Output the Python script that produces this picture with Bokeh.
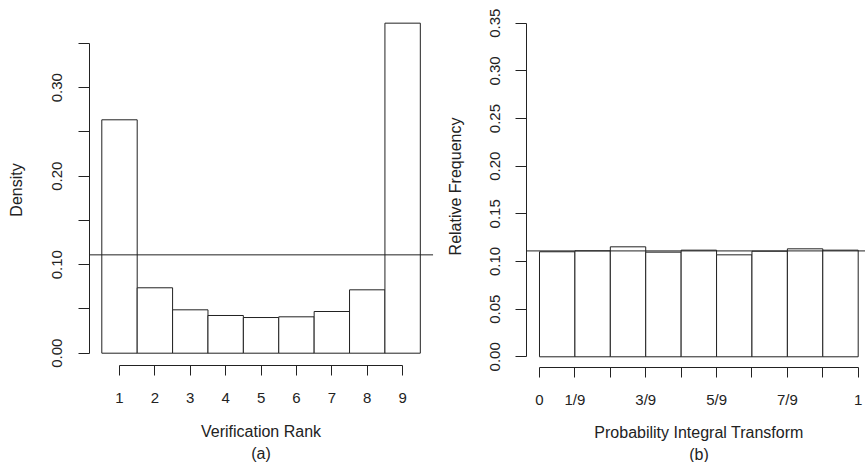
import math
from bokeh.plotting import figure
from bokeh.models import FixedTicker, PrintfTickFormatter, Range1d
from bokeh.core.properties import value
from bokeh.layouts import row
from bokeh.embed import file_html
from bokeh.resources import INLINE

# ---- data ----
ranks = [1, 2, 3, 4, 5, 6, 7, 8, 9]
rank_density = [0.2637, 0.0739, 0.0490, 0.0426, 0.0403, 0.0411, 0.0471, 0.0716, 0.3729]

pit_edges = [0, 1/9, 2/9, 3/9, 4/9, 5/9, 6/9, 7/9, 8/9, 1]
pit_freq = [0.1102, 0.1112, 0.1154, 0.1098, 0.1119, 0.1070, 0.1108, 0.1133, 0.1119]

uniform_level = 1/9

left_yticks = [0.0, 0.05, 0.10, 0.15, 0.20, 0.25, 0.30, 0.35]
left_yticklabels = ["0.00", "", "0.10", "", "0.20", "", "0.30", ""]
right_yticks = [0.0, 0.05, 0.10, 0.15, 0.20, 0.25, 0.30, 0.35]
right_yticklabels = ["0.00", "0.05", "0.10", "0.15", "0.20", "0.25", "0.30", "0.35"]
pit_xticklabels = ["0", "1/9", "", "3/9", "", "5/9", "", "7/9", "", "1"]

FONT = "Liberation Sans"
TICK_FS = "15px"
LAB_FS = "16px"
INK = "#222222"


def style(p, xaxis_bounds, yaxis_bounds, x_at, y_at, tick_standoff, x_lab_standoff):
    p.grid.grid_line_color = None
    p.outline_line_color = None
    p.background_fill_color = "white"
    p.border_fill_color = "white"
    for ax in (p.xaxis[0], p.yaxis[0]):
        ax.axis_line_color = INK
        ax.major_tick_line_color = INK
        ax.minor_tick_line_color = None
        ax.major_tick_in = 0
        ax.major_label_text_font = FONT
        ax.major_label_text_font_size = TICK_FS
        ax.major_label_text_color = INK
        ax.axis_label_text_font = FONT
        ax.axis_label_text_font_size = LAB_FS
        ax.axis_label_text_font_style = "normal"
        ax.axis_label_text_color = INK
    # R-style axes drawn at the edges of the plot region
    p.xaxis[0].bounds = xaxis_bounds
    p.xaxis[0].fixed_location = x_at
    p.yaxis[0].bounds = yaxis_bounds
    p.yaxis[0].fixed_location = y_at
    p.xaxis[0].major_tick_out = 10
    p.yaxis[0].major_tick_out = 11
    p.xaxis[0].major_label_standoff = tick_standoff
    p.xaxis[0].axis_label_standoff = x_lab_standoff
    p.xaxis[0].axis_label_text_line_height = 1.3
    p.yaxis[0].major_label_standoff = 16
    p.yaxis[0].major_label_orientation = "vertical"


def ylabel(p, x, y, text):
    p.text(x=[x], y=[y], text=[text], angle=math.pi / 2, text_align="center",
           text_baseline="middle", text_font=value(FONT), text_font_size=LAB_FS,
           text_color=INK)


# ---- panel (a) ----
a_x0, a_x1 = 0.14, 9.86          # plot region (data units)
a_y0 = -0.01424
p1 = figure(width=434, height=462, x_range=Range1d(-2.3626, 9.9008),
            y_range=Range1d(-0.1235, 0.3985), output_backend="svg",
            toolbar_location=None, min_border_left=0, min_border_right=0,
            min_border_top=0, min_border_bottom=0)
p1.quad(left=[r - 0.5 for r in ranks], right=[r + 0.5 for r in ranks],
        bottom=0, top=rank_density, fill_color="white", line_color=INK, line_width=1)
p1.segment(x0=[a_x0], y0=[uniform_level], x1=[a_x1], y1=[uniform_level],
           line_color=INK, line_width=1)
style(p1, (1, 9), (0, 0.35), a_y0, a_x0, 17, 17)
p1.xaxis[0].ticker = FixedTicker(ticks=ranks)
p1.yaxis[0].ticker = FixedTicker(ticks=left_yticks)
p1.yaxis[0].formatter = PrintfTickFormatter(format="%.2f")
p1.yaxis[0].major_label_overrides = dict(zip(left_yticks, left_yticklabels))
p1.xaxis[0].axis_label = "Verification Rank\n(a)"
ylabel(p1, -1.916, 0.1844, "Density")

# ---- panel (b) ----
b_x0, b_x1 = -0.03985, 1.0229
b_y0 = -0.01154
p2 = figure(width=431, height=462, x_range=Range1d(-0.32946, 1.0229),
            y_range=Range1d(-0.11091, 0.37387), output_backend="svg",
            toolbar_location=None, min_border_left=0, min_border_right=0,
            min_border_top=0, min_border_bottom=0)
p2.quad(left=pit_edges[:-1], right=pit_edges[1:], bottom=0, top=pit_freq,
        fill_color="white", line_color=INK, line_width=1)
p2.segment(x0=[b_x0], y0=[uniform_level], x1=[b_x1], y1=[uniform_level],
           line_color=INK, line_width=1)
style(p2, (0, 1), (0, 0.35), b_y0, b_x0, 13, 13)
p2.xaxis[0].ticker = FixedTicker(ticks=pit_edges)
p2.xaxis[0].major_label_overrides = dict(zip(pit_edges, pit_xticklabels))
p2.yaxis[0].ticker = FixedTicker(ticks=right_yticks)
p2.yaxis[0].major_label_overrides = dict(zip(right_yticks, right_yticklabels))
p2.xaxis[0].axis_label = "Probability Integral Transform\n(b)"
ylabel(p2, -0.2626, 0.1787, "Relative Frequency")

layout = row(p1, p2, spacing=0)
open("out.html", "w").write(file_html(layout, INLINE))
